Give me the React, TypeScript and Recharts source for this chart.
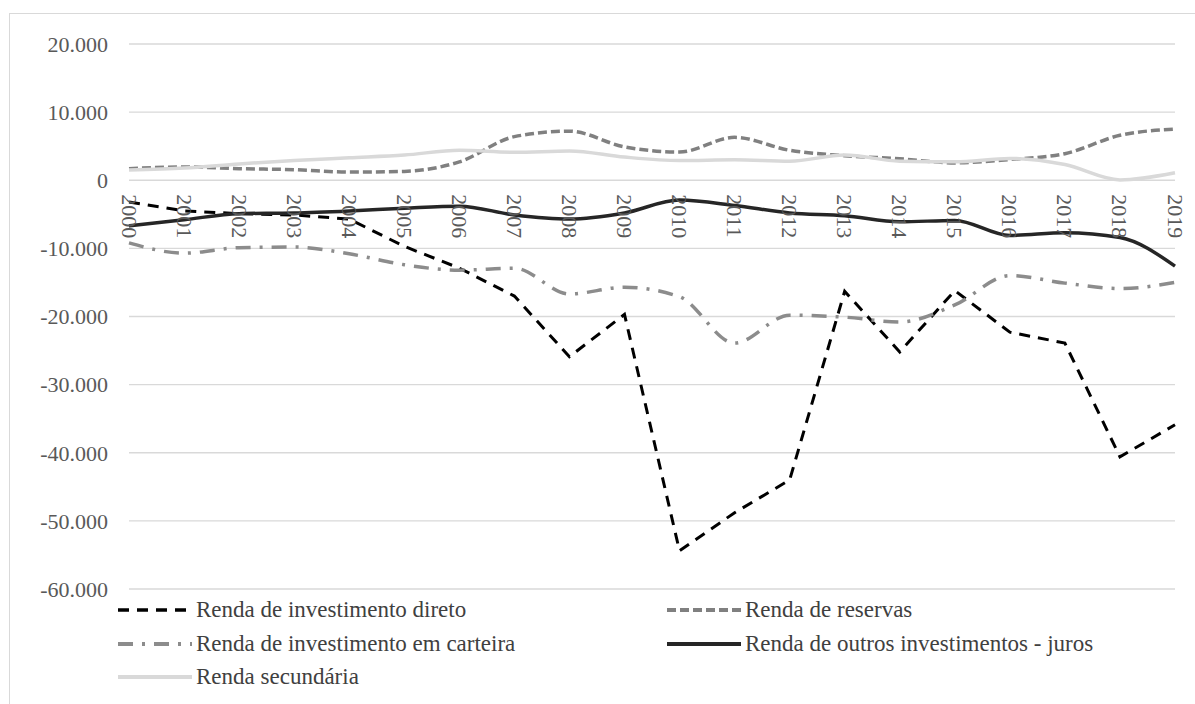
import React from "react";
import {
  CartesianGrid,
  Legend,
  Line,
  LineChart,
  ReferenceDot,
  XAxis,
  YAxis,
} from "recharts";

// Renda primária e secundária, 2000–2019 (US$ milhões)
const years = [
  "2000", "2001", "2002", "2003", "2004", "2005", "2006", "2007", "2008", "2009",
  "2010", "2011", "2012", "2013", "2014", "2015", "2016", "2017", "2018", "2019",
];
const investimentoDireto = [
  -3200, -4500, -4900, -5100, -5700, -9700, -12900, -17000, -25900, -19700,
  -54400, -48800, -44000, -16300, -25200, -16200, -22300, -23900, -40600, -35900,
];
const reservas = [
  1700, 1950, 1700, 1550, 1200, 1300, 2700, 6400, 7200, 4900,
  4150, 6300, 4400, 3600, 3150, 2550, 3050, 3900, 6600, 7500,
];
const investimentoCarteira = [
  -9200, -10700, -9900, -9800, -10800, -12400, -13200, -12900, -16700, -15700,
  -17100, -23900, -19800, -20100, -20800, -18300, -14000, -15100, -15900, -15000,
];
const outrosJuros = [
  -6700, -5800, -4900, -4800, -4500, -4100, -3800, -5100, -5700, -4800,
  -2900, -3700, -4800, -5200, -6100, -5900, -8100, -7700, -8400, -12600,
];
const secundaria = [
  1500, 1800, 2400, 2900, 3300, 3700, 4400, 4100, 4300, 3400,
  2900, 3000, 2800, 3700, 2800, 2700, 3200, 2300, 50, 1100,
];
const yTicks = [-60000, -50000, -40000, -30000, -20000, -10000, 0, 10000, 20000];

const FONT =
  '"Liberation Serif", "Times New Roman", Tinos, "DejaVu Serif", "Noto Serif", Times, serif';

const series = [
  { key: "direto", name: "Renda de investimento direto", color: "#000000", dash: "11 8", width: 3, curve: "linear" },
  { key: "reservas", name: "Renda de reservas", color: "#808080", dash: "9 4", width: 3.5, curve: "monotone" },
  { key: "carteira", name: "Renda de investimento em carteira", color: "#8c8c8c", dash: "15 9 3 9", width: 3.5, curve: "monotone" },
  { key: "juros", name: "Renda de outros investimentos - juros", color: "#262626", dash: undefined, width: 3.5, curve: "monotone" },
  { key: "secundaria", name: "Renda secundária", color: "#d9d9d9", dash: undefined, width: 3.5, curve: "monotone" },
] as const;

const data = years.map((year, i) => ({
  year,
  direto: investimentoDireto[i],
  reservas: reservas[i],
  carteira: investimentoCarteira[i],
  juros: outrosJuros[i],
  secundaria: secundaria[i],
}));

const fmt = (v: number) =>
  (v < 0 ? "-" : "") + String(Math.abs(v)).replace(/\B(?=(\d{3})+(?!\d))/g, ".");

// year labels hang vertically under the zero line
function YearLabel(props: any) {
  const vb = props.viewBox || {};
  const x = vb.x + (vb.width || 0) / 2;
  const y = vb.y + (vb.height || 0) / 2;
  return (
    <text
      transform={`translate(${x}, ${y + 14}) rotate(90)`}
      textAnchor="start"
      dominantBaseline="central"
      style={{ fontFamily: FONT }}
      fontSize={22}
      fill="#595959"
    >
      {props.value}
    </text>
  );
}

function LegendBox() {
  return (
    <div style={{ position: "relative", width: 1195, height: 110 }}>
      {series.map((s, i) => {
        const col = i % 2;
        const row = Math.floor(i / 2);
        return (
          <div
            key={s.key}
            style={{
              position: "absolute",
              left: col === 0 ? 118 : 667,
              top: row * 33.5,
              height: 34,
              display: "flex",
              alignItems: "center",
              whiteSpace: "nowrap",
            }}
          >
            <svg width={74} height={10} style={{ marginRight: 4 }}>
              <line
                x1={0}
                y1={5}
                x2={74}
                y2={5}
                stroke={s.color}
                strokeWidth={s.width + 0.5}
                strokeDasharray={s.dash}
              />
            </svg>
            <span style={{ fontFamily: FONT, fontSize: 23, color: "#404040" }}>{s.name}</span>
          </div>
        );
      })}
    </div>
  );
}

export default function App() {
  return (
    <div
      style={{
        position: "absolute",
        left: 0,
        top: 0,
        width: 1195,
        height: 704,
        overflow: "hidden",
        background: "#fff",
        fontFamily: FONT,
      }}
    >
      <div
        style={{
          position: "absolute",
          left: 9,
          top: 13,
          width: 1300,
          height: 800,
          border: "1px solid #d9d9d9",
        }}
      />
      <LineChart
        width={1195}
        height={704}
        data={data}
        margin={{ top: 44, right: 20, bottom: 115, left: 9 }}
        style={{ fontFamily: FONT }}
      >
        <CartesianGrid vertical={false} stroke="#d9d9d9" strokeWidth={1.3} />
        <XAxis dataKey="year" hide />
        <YAxis
          domain={[-60000, 20000]}
          ticks={yTicks}
          width={120}
          axisLine={false}
          tickLine={false}
          tickSize={0}
          tickMargin={21}
          tickFormatter={fmt}
          tick={{ fill: "#595959", fontSize: 22, style: { fontFamily: FONT } }}
        />
        {series.map((s) => (
          <Line
            key={s.key}
            type={s.curve}
            dataKey={s.key}
            name={s.name}
            stroke={s.color}
            strokeWidth={s.width}
            strokeDasharray={s.dash}
            dot={false}
            isAnimationActive={false}
          />
        ))}
        {years.map((y) => (
          <ReferenceDot
            key={y}
            x={y}
            y={0}
            r={0}
            fill="none"
            stroke="none"
            label={(p: any) => <YearLabel {...p} value={y} />}
          />
        ))}
        <Legend
          layout="horizontal"
          verticalAlign="middle"
          align="center"
          wrapperStyle={{ left: 0, top: 593, width: 1195 }}
          content={() => <LegendBox />}
        />
      </LineChart>
    </div>
  );
}
